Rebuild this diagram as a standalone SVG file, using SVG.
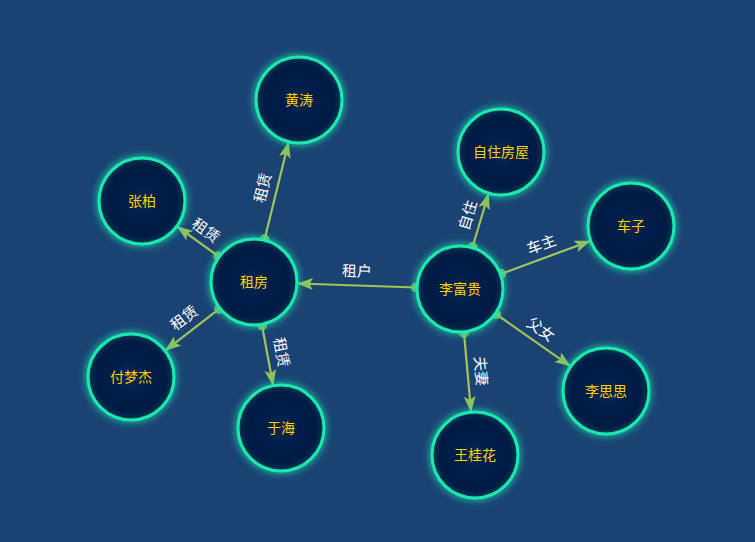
<svg xmlns="http://www.w3.org/2000/svg" width="755" height="542" viewBox="0 0 755 542">
<style>
.node circle{fill:url(#ng);stroke:#1de9b0;stroke-width:3;filter:url(#glow)}
.node text{fill:#ffd200;font-family:"Noto Sans CJK SC","Microsoft YaHei",sans-serif;font-size:14px;text-anchor:middle;dominant-baseline:central}
.edge{stroke:#a2c45a;stroke-width:2.2;fill:none;marker-start:url(#dot);marker-end:url(#arr)}
.lbl{fill:#ffffff;font-family:"Noto Sans CJK SC","Microsoft YaHei",sans-serif;font-size:15px;text-anchor:middle;dominant-baseline:central}
</style>
<defs>
<radialGradient id="ng" cx="50%" cy="50%" r="50%">
<stop offset="0%" stop-color="#08234f"/>
<stop offset="82%" stop-color="#021a44"/>
<stop offset="95%" stop-color="#07324f"/>
<stop offset="100%" stop-color="#12625c"/>
</radialGradient>
<filter id="glow" x="-30%" y="-30%" width="160%" height="160%">
<feDropShadow dx="0" dy="0" stdDeviation="4" flood-color="#1de9b0" flood-opacity="0.9"/>
</filter>
<marker id="arr" viewBox="0 0 16 12" refX="15" refY="6" markerWidth="16" markerHeight="12" markerUnits="userSpaceOnUse" orient="auto">
<path d="M0,0 L16,6 L0,12 L3.5,6 z" fill="#8ec25e"/>
</marker>
<marker id="dot" viewBox="0 0 10 10" refX="5" refY="5" markerWidth="10" markerHeight="10" markerUnits="userSpaceOnUse" orient="auto">
<circle cx="5" cy="5" r="5" fill="#7fbf5e" fill-opacity="0.85"/>
</marker>
</defs>
<rect width="755" height="542" fill="#1a4272"/>
<g id="edges">
<line class="edge" x1="416" y1="287.5" x2="298" y2="283.5"/>
<line class="edge" x1="264.6" y1="239.3" x2="288.4" y2="142.7"/>
<line class="edge" x1="218.3" y1="256.2" x2="177.7" y2="226.8"/>
<line class="edge" x1="219.2" y1="308.9" x2="165.8" y2="350.1"/>
<line class="edge" x1="262" y1="325.3" x2="273" y2="384.7"/>
<line class="edge" x1="472.6" y1="246.8" x2="488.4" y2="194.2"/>
<line class="edge" x1="501.3" y1="273.8" x2="589.7" y2="241.2"/>
<line class="edge" x1="496.1" y1="314.2" x2="569.9" y2="365.8"/>
<line class="edge" x1="464" y1="332.8" x2="471" y2="411.2"/>
<text class="lbl" transform="translate(357,270) rotate(1.9)">租户</text>
<text class="lbl" transform="translate(261.5,187.5) rotate(-76.1)">租赁</text>
<text class="lbl" transform="translate(206.5,229.5) rotate(35.9)">租赁</text>
<text class="lbl" transform="translate(183.5,317) rotate(-37.7)">租赁</text>
<text class="lbl" transform="translate(282.5,352) rotate(79.5)">租赁</text>
<text class="lbl" transform="translate(466.5,215) rotate(-73.3)">自住</text>
<text class="lbl" transform="translate(541,243.5) rotate(-20.2)">车主</text>
<text class="lbl" transform="translate(541.5,328.5) rotate(34.9)">父女</text>
<text class="lbl" transform="translate(482,371) rotate(84.8)">夫妻</text>
</g>
<g id="n-zufang" class="node"><circle cx="254" cy="282" r="43"/><text x="254" y="280.5">租房</text></g>
<g id="n-lifugui" class="node"><circle cx="460" cy="289" r="43"/><text x="460" y="287.5">李富贵</text></g>
<g id="n-huangtao" class="node"><circle cx="299" cy="100" r="43"/><text x="299" y="98.5">黄涛</text></g>
<g id="n-zhangbai" class="node"><circle cx="142" cy="201" r="43"/><text x="142" y="199.5">张柏</text></g>
<g id="n-fumengjie" class="node"><circle cx="131" cy="377" r="43"/><text x="131" y="375.5">付梦杰</text></g>
<g id="n-yuhai" class="node"><circle cx="281" cy="428" r="43"/><text x="281" y="426.5">于海</text></g>
<g id="n-zizhu" class="node"><circle cx="501" cy="152" r="43"/><text x="501" y="150.5">自住房屋</text></g>
<g id="n-chezi" class="node"><circle cx="631" cy="226" r="43"/><text x="631" y="224.5">车子</text></g>
<g id="n-lisisi" class="node"><circle cx="606" cy="391" r="43"/><text x="606" y="389.5">李思思</text></g>
<g id="n-wangguihua" class="node"><circle cx="475" cy="455" r="43"/><text x="475" y="453.5">王桂花</text></g>
</svg>
